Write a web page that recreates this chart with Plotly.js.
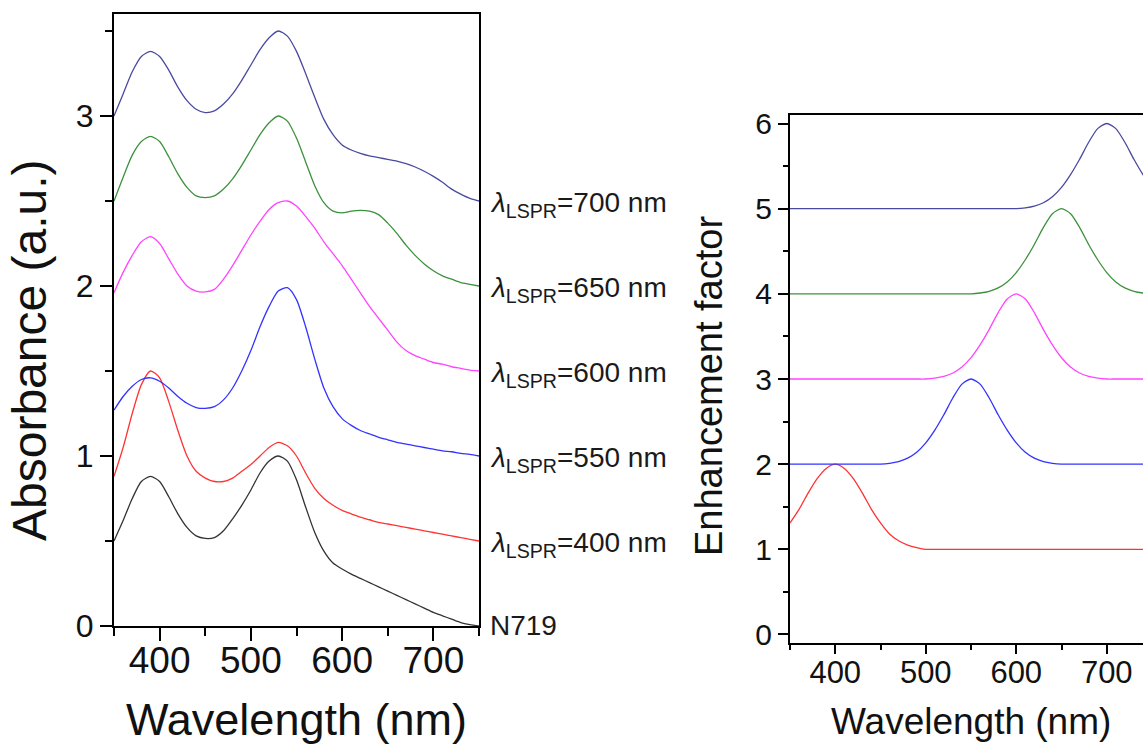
<!DOCTYPE html>
<html>
<head>
<meta charset="utf-8">
<script src="https://cdn.plot.ly/plotly-3.0.1.min.js"></script>
<style>
html,body{margin:0;padding:0;overflow:hidden;background:#fff;}
#chart{width:1160px;height:744px;}
</style>
</head>
<body>
<div id="chart"></div>
<script>
// ---------- DATA ----------
const wavelength = [350,360,370,380,390,400,410,420,430,440,450,460,470,480,490,500,510,520,530,540,550,560,570,580,590,600,610,620,630,640,650,660,670,680,690,700,710,720,730,740,750];

// Left panel: absorbance spectra (offset)
const absN719 = [0.50,0.62,0.75,0.85,0.88,0.85,0.76,0.66,0.58,0.53,0.515,0.52,0.56,0.63,0.71,0.80,0.90,0.97,1.00,0.97,0.86,0.70,0.55,0.44,0.37,0.335,0.305,0.28,0.255,0.23,0.205,0.18,0.155,0.13,0.105,0.08,0.06,0.04,0.02,0.008,0.00];
const abs400 = [0.88,1.05,1.25,1.42,1.50,1.46,1.32,1.15,1.00,0.91,0.87,0.85,0.85,0.87,0.91,0.95,1.00,1.05,1.08,1.06,1.00,0.90,0.81,0.75,0.71,0.68,0.66,0.64,0.625,0.61,0.60,0.59,0.58,0.57,0.56,0.55,0.54,0.53,0.52,0.51,0.50];
const abs550 = [1.27,1.35,1.41,1.45,1.46,1.44,1.40,1.35,1.31,1.285,1.28,1.29,1.33,1.40,1.50,1.62,1.76,1.88,1.97,1.99,1.92,1.76,1.57,1.40,1.29,1.22,1.18,1.15,1.13,1.11,1.095,1.08,1.07,1.06,1.05,1.04,1.03,1.025,1.015,1.01,1.00];
const abs600 = [1.96,2.08,2.18,2.26,2.29,2.25,2.16,2.07,2.00,1.97,1.965,1.98,2.04,2.12,2.21,2.30,2.38,2.45,2.49,2.50,2.47,2.41,2.34,2.26,2.19,2.12,2.04,1.96,1.88,1.81,1.74,1.67,1.62,1.59,1.57,1.55,1.54,1.525,1.515,1.505,1.50];
const abs650 = [2.50,2.64,2.77,2.85,2.88,2.85,2.76,2.66,2.58,2.53,2.52,2.53,2.57,2.63,2.71,2.80,2.89,2.96,3.00,2.97,2.87,2.73,2.59,2.49,2.44,2.43,2.44,2.445,2.44,2.42,2.37,2.31,2.24,2.18,2.13,2.09,2.06,2.04,2.02,2.01,2.00];
const abs700 = [3.00,3.13,3.26,3.35,3.38,3.35,3.27,3.17,3.09,3.04,3.02,3.03,3.07,3.13,3.21,3.30,3.39,3.46,3.50,3.47,3.38,3.25,3.11,2.98,2.89,2.83,2.80,2.78,2.765,2.755,2.745,2.735,2.72,2.70,2.675,2.645,2.61,2.57,2.54,2.515,2.50];

// Right panel: enhancement factor (offset)
const ef400 = [1.31,1.47,1.66,1.83,1.95,2.00,1.95,1.83,1.66,1.47,1.31,1.18,1.10,1.05,1.02,1.00,1.00,1.00,1.00,1.00,1.00,1.00,1.00,1.00,1.00,1.00,1.00,1.00,1.00,1.00,1.00,1.00,1.00,1.00,1.00,1.00,1.00,1.00,1.00,1.00,1.00];
const ef550 = [2.00,2.00,2.00,2.00,2.00,2.00,2.00,2.00,2.00,2.00,2.00,2.01,2.03,2.07,2.14,2.25,2.40,2.58,2.78,2.94,3.00,2.94,2.78,2.58,2.40,2.25,2.14,2.07,2.03,2.01,2.00,2.00,2.00,2.00,2.00,2.00,2.00,2.00,2.00,2.00,2.00];
const ef600 = [3.00,3.00,3.00,3.00,3.00,3.00,3.00,3.00,3.00,3.00,3.00,3.00,3.00,3.00,3.00,3.00,3.01,3.03,3.07,3.14,3.25,3.40,3.58,3.78,3.94,4.00,3.94,3.78,3.58,3.40,3.25,3.14,3.07,3.03,3.01,3.00,3.00,3.00,3.00,3.00,3.00];
const ef650 = [4.00,4.00,4.00,4.00,4.00,4.00,4.00,4.00,4.00,4.00,4.00,4.00,4.00,4.00,4.00,4.00,4.00,4.00,4.00,4.00,4.00,4.01,4.03,4.07,4.14,4.25,4.40,4.58,4.78,4.94,5.00,4.94,4.78,4.58,4.40,4.25,4.14,4.07,4.03,4.01,4.00];
const ef700 = [5.00,5.00,5.00,5.00,5.00,5.00,5.00,5.00,5.00,5.00,5.00,5.00,5.00,5.00,5.00,5.00,5.00,5.00,5.00,5.00,5.00,5.00,5.00,5.00,5.00,5.00,5.01,5.03,5.07,5.14,5.25,5.40,5.58,5.78,5.94,6.00,5.94,5.78,5.58,5.40,5.25];

const seriesLabels = ["N719","λ<sub>LSPR</sub>=400 nm","λ<sub>LSPR</sub>=550 nm","λ<sub>LSPR</sub>=600 nm","λ<sub>LSPR</sub>=650 nm","λ<sub>LSPR</sub>=700 nm"];
const xTickVals = [400,500,600,700];
const leftYTicks = [0,1,2,3];
const rightYTicks = [0,1,2,3,4,5,6];

// ---------- STYLE ----------
const colors = {n719:"#333333", c400:"#ff3333", c550:"#3333ff", c600:"#ff44ff", c650:"#3c913c", c700:"#4a4aa0"};
const W = 1160, H = 744;
const FONT = "Arial, 'Liberation Sans', sans-serif";

function line(x, y, color, xa, ya){
  return {x:x, y:y, type:"scatter", mode:"lines", xaxis:xa, yaxis:ya,
          line:{color:color, width:1.3, shape:"spline", smoothing:0.7}, hoverinfo:"skip", showlegend:false};
}

const data = [
  line(wavelength, absN719, colors.n719, "x", "y"),
  line(wavelength, abs400, colors.c400, "x", "y"),
  line(wavelength, abs550, colors.c550, "x", "y"),
  line(wavelength, abs600, colors.c600, "x", "y"),
  line(wavelength, abs650, colors.c650, "x", "y"),
  line(wavelength, abs700, colors.c700, "x", "y"),
  line(wavelength, ef400, colors.c400, "x2", "y2"),
  line(wavelength, ef550, colors.c550, "x2", "y2"),
  line(wavelength, ef600, colors.c600, "x2", "y2"),
  line(wavelength, ef650, colors.c650, "x2", "y2"),
  line(wavelength, ef700, colors.c700, "x2", "y2")
];

function axisBase(){
  return {showline:true, linecolor:"#000", linewidth:2, mirror:true, showgrid:false, zeroline:false,
          ticks:"outside", tickcolor:"#000", tickwidth:2, fixedrange:true};
}

const endVals = [absN719[absN719.length-1], abs400[abs400.length-1], abs550[abs550.length-1], abs600[abs600.length-1], abs650[abs650.length-1], abs700[abs700.length-1]];
const labelAnn = seriesLabels.map((t,i)=>({
  text: i===0 ? t : t.replace("λ","<i>λ</i>"),
  x: wavelength[wavelength.length-1], y: endVals[i], xref:"x", yref:"y",
  xanchor:"left", yanchor:"middle", xshift:9, yshift: i===0 ? 1 : -3, showarrow:false,
  font:{family:FONT, size:28, color:"#1a1a1a"}
}));

const titleAnn = [
  {text:"Wavelength (nm)", x:296.5/W, y:1-719/H, xref:"paper", yref:"paper", xanchor:"center", yanchor:"middle", showarrow:false, font:{family:FONT, size:45, color:"#111"}},
  {text:"Absorbance (a.u.)", x:29/W, y:1-350/H, xref:"paper", yref:"paper", xanchor:"center", yanchor:"middle", textangle:-90, showarrow:false, font:{family:FONT, size:48, color:"#111"}},
  {text:"Wavelength (nm)", x:971/W, y:1-721/H, xref:"paper", yref:"paper", xanchor:"center", yanchor:"middle", showarrow:false, font:{family:FONT, size:37, color:"#111"}},
  {text:"Enhancement factor", x:709/W, y:1-386/H, xref:"paper", yref:"paper", xanchor:"center", yanchor:"middle", textangle:-90, showarrow:false, font:{family:FONT, size:38, color:"#111"}}
];

const layout = {
  width:W, height:H, margin:{l:0,r:0,t:0,b:0}, paper_bgcolor:"#fff", plot_bgcolor:"#fff",
  showlegend:false, font:{family:FONT, color:"#111"},
  xaxis: Object.assign(axisBase(), {domain:[114/W, 479/W], range:[350,750], anchor:"y",
          tickmode:"array", tickvals:xTickVals, ticklen:13, ticklabelstandoff:-12, tickfont:{size:37, family:FONT, color:"#111"},
          minor:{tickmode:"linear", tick0:350, dtick:50, ticks:"outside", ticklen:8, tickwidth:2, tickcolor:"#000"}}),
  yaxis: Object.assign(axisBase(), {domain:[1-626/H, 1-14/H], range:[0,3.6], anchor:"x",
          tickmode:"array", tickvals:leftYTicks, ticklen:12, tickfont:{size:32, family:FONT, color:"#111"},
          minor:{tickmode:"linear", tick0:0, dtick:0.5, ticks:"outside", ticklen:7, tickwidth:2, tickcolor:"#000"}}),
  xaxis2: Object.assign(axisBase(), {domain:[790/W, 1152/W], range:[350,750], anchor:"y2",
          tickmode:"array", tickvals:xTickVals, ticklen:9, ticklabelstandoff:-8, tickfont:{size:31, family:FONT, color:"#111"},
          minor:{tickmode:"linear", tick0:350, dtick:50, ticks:"outside", ticklen:5, tickwidth:2, tickcolor:"#000"}}),
  yaxis2: Object.assign(axisBase(), {domain:[1-643/H, 1-115/H], range:[-0.1,6.1], anchor:"x2",
          tickmode:"array", tickvals:rightYTicks, ticklen:10, tickfont:{size:30, family:FONT, color:"#111"},
          minor:{tickmode:"linear", tick0:0, dtick:0.5, ticks:"outside", ticklen:5, tickwidth:2, tickcolor:"#000"}}),
  annotations: labelAnn.concat(titleAnn)
};

Plotly.newPlot("chart", data, layout, {staticPlot:true, displayModeBar:false});
</script>
</body>
</html>
